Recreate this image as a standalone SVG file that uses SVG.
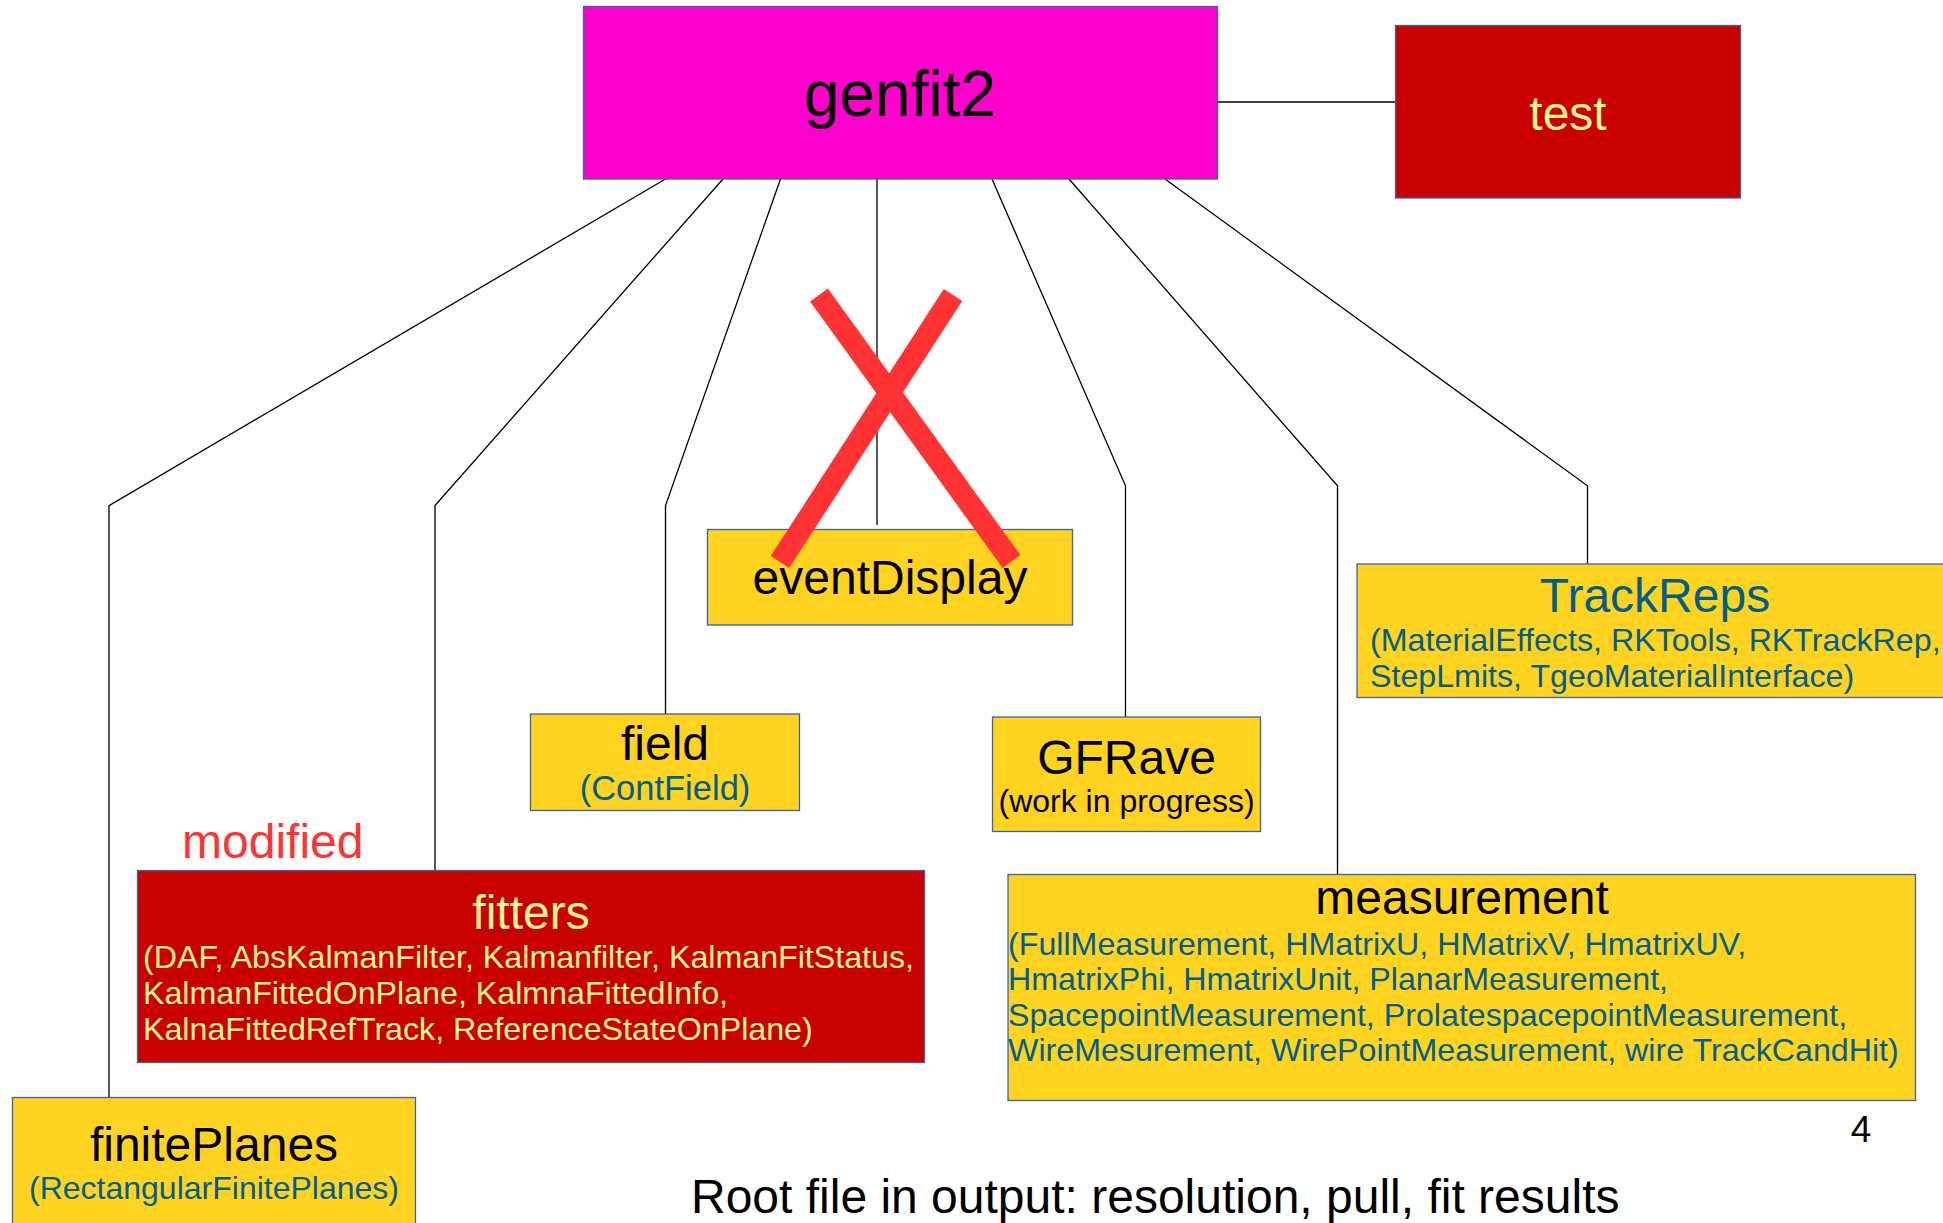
<svg xmlns="http://www.w3.org/2000/svg" width="1943" height="1223" viewBox="0 0 1943 1223">
<style>
text{font-family:"Liberation Sans",Arial,sans-serif}
.box{stroke:#3465A4;stroke-width:1.3}
.yel{fill:#FFD320}
.red{fill:#C90000}
.t{font-size:48px;fill:#000;text-anchor:middle}
.s{font-size:32.2px;fill:#005E8C}
.ly{fill:#FFF68F}
.con{fill:none;stroke:#000;stroke-width:1.3}
</style>
<rect width="1943" height="1223" fill="#fff"/>
<g id="connectors">
<line class="con" x1="1217" y1="102" x2="1395" y2="102"/>
<polyline class="con" points="665.5,179 109,505.6 109,1097"/>
<polyline class="con" points="723,179 435,505.6 435,870"/>
<polyline class="con" points="780.5,179 665.5,505.6 665.5,714"/>
<polyline class="con" points="877,179 877,525"/>
<polyline class="con" points="992,179 1125.5,485.8 1125.5,717"/>
<polyline class="con" points="1069,179 1337.5,485.8 1337.5,874"/>
<polyline class="con" points="1165,179 1587.5,485.8 1587.5,564"/>
</g>
<g id="genfit2">
<rect x="583.5" y="6.5" width="634" height="172.5" fill="#FF00CC" class="box"/>
<text x="900" y="116" style="font-size:64px;text-anchor:middle;fill:#000">genfit2</text>
</g>
<g id="test">
<rect x="1395.5" y="25.5" width="345" height="172.5" class="box red"/>
<text x="1568" y="130" class="ly" style="font-size:48px;text-anchor:middle">test</text>
</g>
<g id="eventDisplay">
<rect x="707.5" y="529.5" width="365" height="95.5" class="box yel"/>
<text x="890" y="594" class="t">eventDisplay</text>
</g>
<g id="cross">
<line x1="819" y1="295" x2="1011.5" y2="561.5" stroke="#FF3333" stroke-width="22"/>
<line x1="953" y1="295" x2="780" y2="562" stroke="#FF3333" stroke-width="22"/>
</g>
<g id="field">
<rect x="530.5" y="714" width="269" height="96.5" class="box yel"/>
<text x="665" y="760" class="t">field</text>
<text x="665" y="800" class="s" style="text-anchor:middle;font-size:34.5px">(ContField)</text>
</g>
<g id="GFRave">
<rect x="992.5" y="717" width="268" height="114.5" class="box yel"/>
<text x="1126.5" y="774" class="t">GFRave</text>
<text x="1126.5" y="812" style="font-size:32px;fill:#000;text-anchor:middle">(work in progress)</text>
</g>
<g id="TrackReps">
<rect x="1357" y="564" width="600" height="133.5" class="box yel"/>
<text x="1655" y="612" class="t" style="fill:#005E8C">TrackReps</text>
<text x="1370" y="651" class="s">(MaterialEffects, RKTools, RKTrackRep,</text>
<text x="1370" y="687" class="s">StepLmits, TgeoMaterialInterface)</text>
</g>
<g id="modified">
<text x="182" y="858" style="font-size:48px;fill:#FF3333">modified</text>
</g>
<g id="fitters">
<rect x="137.5" y="870.5" width="787" height="192" class="box red"/>
<text x="531" y="929" class="ly" style="font-size:48px;text-anchor:middle">fitters</text>
<text x="143" y="968" class="s ly">(DAF, AbsKalmanFilter, Kalmanfilter, KalmanFitStatus,</text>
<text x="143" y="1004" class="s ly">KalmanFittedOnPlane, KalmnaFittedInfo,</text>
<text x="143" y="1040" class="s ly">KalnaFittedRefTrack, ReferenceStateOnPlane)</text>
</g>
<g id="measurement">
<rect x="1008" y="874.5" width="907.5" height="226" class="box yel"/>
<text x="1462" y="914" class="t">measurement</text>
<text x="1008" y="955" class="s">(FullMeasurement, HMatrixU, HMatrixV, HmatrixUV,</text>
<text x="1008" y="990" class="s">HmatrixPhi, HmatrixUnit, PlanarMeasurement,</text>
<text x="1008" y="1026" class="s">SpacepointMeasurement, ProlatespacepointMeasurement,</text>
<text x="1008" y="1061" class="s">WireMesurement, WirePointMeasurement, wire TrackCandHit)</text>
</g>
<g id="finitePlanes">
<rect x="12.5" y="1097.5" width="403" height="140" class="box yel"/>
<text x="214" y="1161" class="t">finitePlanes</text>
<text x="214" y="1199" class="s" style="text-anchor:middle;font-size:32px">(RectangularFinitePlanes)</text>
</g>
<g id="notes">
<text x="1861" y="1142" style="font-size:37px;fill:#000;text-anchor:middle">4</text>
<text x="691" y="1213" style="font-size:48px;fill:#000">Root file in output: resolution, pull, fit results</text>
</g>
</svg>
